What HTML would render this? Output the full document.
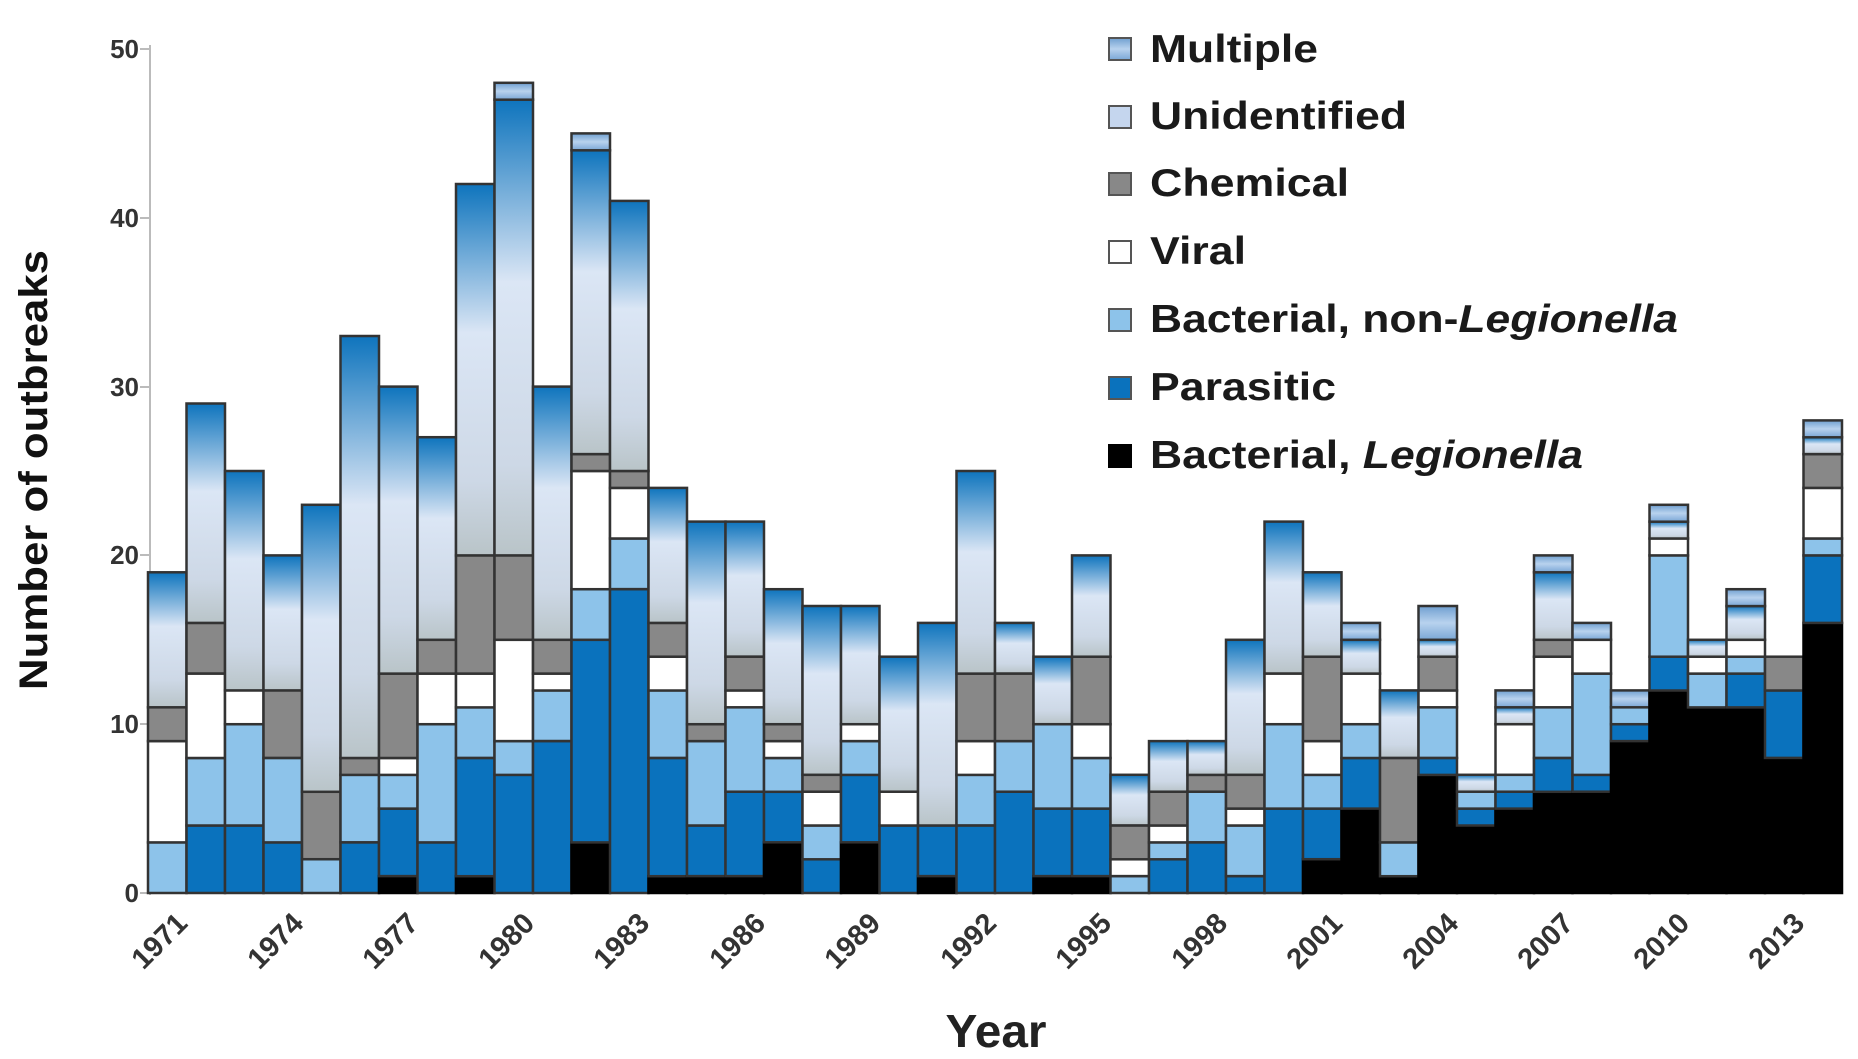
<!DOCTYPE html>
<html><head><meta charset="utf-8"><style>
html,body{margin:0;padding:0;background:#fff;}
svg{display:block;font-family:"Liberation Sans",Arial,sans-serif;}
</style></head><body>
<svg id="s" width="1858" height="1059" viewBox="0 0 1858 1059" xmlns="http://www.w3.org/2000/svg">
<defs>
<linearGradient id="gU" x1="0" y1="0" x2="0" y2="1">
<stop offset="0" stop-color="#0e74bd"/>
<stop offset="0.4" stop-color="#dbe6f5"/>
<stop offset="0.8" stop-color="#cdd8e6"/>
<stop offset="1" stop-color="#b9c4c8"/>
</linearGradient>
<linearGradient id="gM" x1="0" y1="0" x2="0" y2="1">
<stop offset="0" stop-color="#6f9fd0"/>
<stop offset="0.5" stop-color="#b8d2ee"/>
<stop offset="1" stop-color="#7aa7d6"/>
</linearGradient>
</defs>
<g id="axis" stroke="#bbb" stroke-width="2">
<line x1="150" y1="45" x2="150" y2="895"/>
<line x1="140" y1="49" x2="150" y2="49"/>
<line x1="140" y1="218" x2="150" y2="218"/>
<line x1="140" y1="387" x2="150" y2="387"/>
<line x1="140" y1="555" x2="150" y2="555"/>
<line x1="140" y1="724" x2="150" y2="724"/>
<line x1="140" y1="893" x2="150" y2="893"/>
</g>
<g font-size="26" font-weight="bold" fill="#333" text-anchor="end">
<text x="139" y="58">50</text>
<text x="139" y="227">40</text>
<text x="139" y="396">30</text>
<text x="139" y="564">20</text>
<text x="139" y="733">10</text>
<text x="139" y="902">0</text>
</g>
<text transform="translate(47,470) rotate(-90)" text-anchor="middle" font-size="40" font-weight="bold" fill="#111" textLength="440" lengthAdjust="spacingAndGlyphs">Number of outbreaks</text>
<text x="996" y="1047" text-anchor="middle" font-size="46" font-weight="bold" fill="#222" textLength="101" lengthAdjust="spacingAndGlyphs">Year</text>
<g id="bars"></g>
<g font-size="29" font-weight="bold" fill="#333" text-anchor="end">
<text transform="translate(189,925) rotate(-45)">1971</text>
<text transform="translate(305,925) rotate(-45)">1974</text>
<text transform="translate(420,925) rotate(-45)">1977</text>
<text transform="translate(536,925) rotate(-45)">1980</text>
<text transform="translate(651,925) rotate(-45)">1983</text>
<text transform="translate(767,925) rotate(-45)">1986</text>
<text transform="translate(882,925) rotate(-45)">1989</text>
<text transform="translate(998,925) rotate(-45)">1992</text>
<text transform="translate(1113,925) rotate(-45)">1995</text>
<text transform="translate(1229,925) rotate(-45)">1998</text>
<text transform="translate(1344,925) rotate(-45)">2001</text>
<text transform="translate(1460,925) rotate(-45)">2004</text>
<text transform="translate(1575,925) rotate(-45)">2007</text>
<text transform="translate(1691,925) rotate(-45)">2010</text>
<text transform="translate(1806,925) rotate(-45)">2013</text>
</g>
<g stroke="#555" stroke-width="2">
<rect x="1109" y="38" width="22" height="22" fill="url(#gM)"/>
<rect x="1109" y="106" width="22" height="22" fill="#c5d6ee"/>
<rect x="1109" y="173" width="22" height="22" fill="#888"/>
<rect x="1109" y="241" width="22" height="22" fill="#fff"/>
<rect x="1109" y="309" width="22" height="22" fill="#8dc3ea"/>
<rect x="1109" y="377" width="22" height="22" fill="#0a72bd"/>
<rect x="1109" y="445" width="22" height="22" fill="#000" stroke="#000"/>
</g>
<g font-size="39" font-weight="bold" fill="#1a1a1a">
<text x="1150" y="62" textLength="168" lengthAdjust="spacingAndGlyphs">Multiple</text>
<text x="1150" y="129" textLength="257" lengthAdjust="spacingAndGlyphs">Unidentified</text>
<text x="1150" y="196" textLength="199" lengthAdjust="spacingAndGlyphs">Chemical</text>
<text x="1150" y="264" textLength="96" lengthAdjust="spacingAndGlyphs">Viral</text>
<text x="1150" y="332" textLength="528" lengthAdjust="spacingAndGlyphs">Bacterial, non-<tspan font-style="italic">Legionella</tspan></text>
<text x="1150" y="400" textLength="186" lengthAdjust="spacingAndGlyphs">Parasitic</text>
<text x="1150" y="468" textLength="433" lengthAdjust="spacingAndGlyphs">Bacterial, <tspan font-style="italic">Legionella</tspan></text>
</g>
</svg>
<script>
var D=[
[0,0,3,6,2,8,0],[0,4,4,5,3,13,0],[0,4,6,2,0,13,0],[0,3,5,0,4,8,0],[0,0,2,0,4,17,0],
[0,3,4,0,1,25,0],[1,4,2,1,5,17,0],[0,3,7,3,2,12,0],[1,7,3,2,7,22,0],[0,7,2,6,5,27,1],
[0,9,3,1,2,15,0],[3,12,3,7,1,18,1],[0,18,3,3,1,16,0],[1,7,4,2,2,8,0],[1,3,5,0,1,12,0],
[1,5,5,1,2,8,0],[3,3,2,1,1,8,0],[0,2,2,2,1,10,0],[3,4,2,1,0,7,0],[0,4,0,2,0,8,0],
[1,3,0,0,0,12,0],[0,4,3,2,4,12,0],[0,6,3,0,4,3,0],[1,4,5,0,0,4,0],[1,4,3,2,4,6,0],
[0,0,1,1,2,3,0],[0,2,1,1,2,3,0],[0,3,3,0,1,2,0],[0,1,3,1,2,8,0],[0,5,5,3,0,9,0],
[2,3,2,2,5,5,0],[5,3,2,3,0,2,1],[1,0,2,0,5,4,0],[7,1,3,1,2,1,2],[4,1,1,0,0,1,0],
[5,1,1,3,0,1,1],[6,2,3,3,1,4,1],[6,1,6,2,0,0,1],[9,1,1,0,0,0,1],[12,2,6,1,0,1,1],
[11,0,2,1,0,1,0],[11,2,1,1,0,2,1],[8,4,0,0,2,0,0],[16,4,1,3,2,1,1]];
var F=["#000","#0a72bd","#8dc3ea","#fff","#888","url(#gU)","url(#gM)"];
var g=document.getElementById("bars"),y0=893,k=16.88,w=38.5,x0=148,h="";
D.forEach(function(d,i){var c=0,x=x0+i*w;
d.forEach(function(v,j){if(!v)return;var yt=y0-(c+v)*k,yb=y0-c*k;
h+='<rect x="'+x.toFixed(1)+'" y="'+yt.toFixed(1)+'" width="'+w+'" height="'+(yb-yt).toFixed(1)+'" fill="'+F[j]+'" stroke="'+(j==0?"#000":"#333")+'" stroke-width="2.5"/>';c+=v;});});
g.innerHTML=h;
</script>
</body></html>
